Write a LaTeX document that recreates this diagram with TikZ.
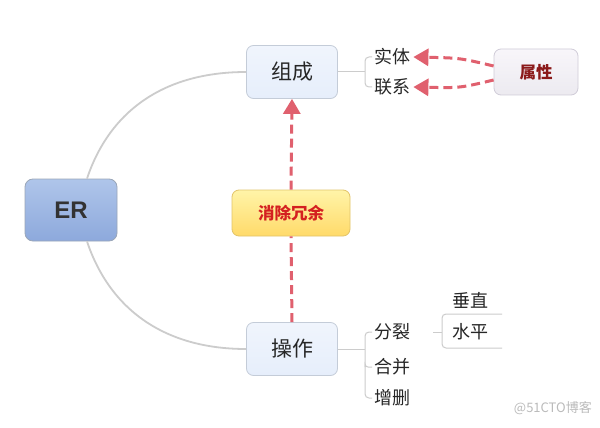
\documentclass[tikz,border=0pt]{standalone}
\usepackage{fontspec}
\setmainfont{Liberation Sans}
\newfontfamily\cjk{Noto Sans CJK SC}
\usetikzlibrary{arrows.meta}
\definecolor{boxline}{HTML}{C4CCD8}
\definecolor{lightblue}{HTML}{E6EEFB}
\definecolor{redline}{HTML}{E0606E}
\definecolor{grayline}{HTML}{CCCCCC}
\definecolor{darkred}{HTML}{8B1A1A}
\definecolor{brightred}{HTML}{D42020}
\definecolor{roottop}{HTML}{AFC5EA}
\definecolor{rootbot}{HTML}{8DA9DC}
\definecolor{rootline}{HTML}{9AA6B8}
\definecolor{roottext}{HTML}{333333}
\definecolor{noteline}{HTML}{E2C46A}
\definecolor{notetop}{HTML}{FFF4A8}
\definecolor{notebot}{HTML}{FFDA6A}
\definecolor{attrline}{HTML}{D0CCD8}
\definecolor{attrtop}{HTML}{F8F6FA}
\definecolor{attrbot}{HTML}{ECEAF0}
\definecolor{wmgray}{HTML}{BBBBBB}
\tikzset{
  topicbox/.style={draw=boxline, line width=0.8pt, rounded corners=7pt, minimum width=91pt, minimum height=53pt, top color=lightblue!60, bottom color=lightblue, font=\cjk\fontsize{21}{21}\selectfont, text=black!85},
  rootbox/.style={draw=rootline, line width=0.8pt, rounded corners=8pt, minimum width=92pt, minimum height=62pt, top color=roottop, bottom color=rootbot, font=\bfseries\fontsize{24}{24}\selectfont, text=roottext},
  notebox/.style={draw=noteline, line width=0.8pt, rounded corners=7pt, minimum width=118pt, minimum height=46pt, top color=notetop, bottom color=notebot, font=\cjk\bfseries\fontsize{16.5}{16.5}\selectfont, text=brightred},
  attrbox/.style={draw=attrline, line width=0.8pt, rounded corners=7pt, minimum width=84pt, minimum height=46pt, top color=attrtop, bottom color=attrbot, font=\cjk\bfseries\fontsize{16.5}{16.5}\selectfont, text=darkred},
  leaf/.style={anchor=west, inner sep=0pt, font=\cjk\fontsize{18}{18}\selectfont, text=black!85},
  branch/.style={draw=grayline, line width=1.8pt},
  twig/.style={draw=grayline, line width=1pt},
  relline/.style={draw=redline, line width=3pt, dash pattern=on 9pt off 5pt},
  relarrow/.style={relline, -{Triangle[length=15pt,width=17pt]}},
}
\begin{document}
\begin{tikzpicture}[x=1pt,y=-1pt]
\useasboundingbox[fill=white] (0,0) rectangle (600,428);
\node[rootbox] (er) at (71,210) {ER};
\node[topicbox] (zc) at (292,72) {组成};
\node[topicbox] (cz) at (292,349) {操作};
\node[notebox] (xc) at (291,213) {消除冗余};
\node[attrbox] (sx) at (536,72) {属性};
\node[leaf] (st) at (374,57) {实体};
\node[leaf] (lx) at (374,87) {联系};
\node[leaf] (fl) at (374,332) {分裂};
\node[leaf] (hb) at (374,367) {合并};
\node[leaf] (zs) at (374,398) {增删};
\node[leaf] (cw) at (452,300) {垂直};
\node[leaf] (sp) at (452,332) {水平};
\node[anchor=east, inner sep=0pt, font=\cjk\fontsize{13}{13}\selectfont, text=wmgray] (wm) at (592,408) {@51CTO博客};
\coordinate (b1) at (365,72);
\coordinate (b2) at (365,349);
\coordinate (c1) at (442,332);
\coordinate (t1) at (502,314);
\coordinate (t2) at (502,348);
% branches
\draw[branch] ([xshift=16pt]er.north) .. controls (110,110) and (165,72) .. (zc.west);
\draw[branch] ([xshift=16pt]er.south) .. controls (110,310) and (165,349) .. (cz.west);
\draw[twig] (zc.east) -- (b1);
\draw[twig, rounded corners=4pt] ([xshift=-2pt]st.west) -| (b1) |- ([xshift=-2pt]lx.west);
\draw[twig] (cz.east) -- (b2);
\draw[twig, rounded corners=4pt] ([xshift=-2pt]fl.west) -| (b2) |- ([xshift=-2pt]zs.west);
\draw[twig, rounded corners=3pt] (b2 |- hb.west) |- ([xshift=-2pt]hb.west);
\draw[twig] ([xshift=23pt]fl.east) -- (c1);
\draw[twig, rounded corners=4pt] (t1) -| (c1) |- (t2);
% relations
\draw[relarrow] (xc.north) -- (zc.south);
\draw[relline] (cz.north) -- (xc.south);
\draw[relarrow] ([yshift=6pt]sx.west) .. controls (460,58) .. ([xshift=3pt]st.east);
\draw[relarrow] ([yshift=-8pt]sx.west) .. controls (460,88) .. ([xshift=3pt]lx.east);
\end{tikzpicture}
\end{document}
